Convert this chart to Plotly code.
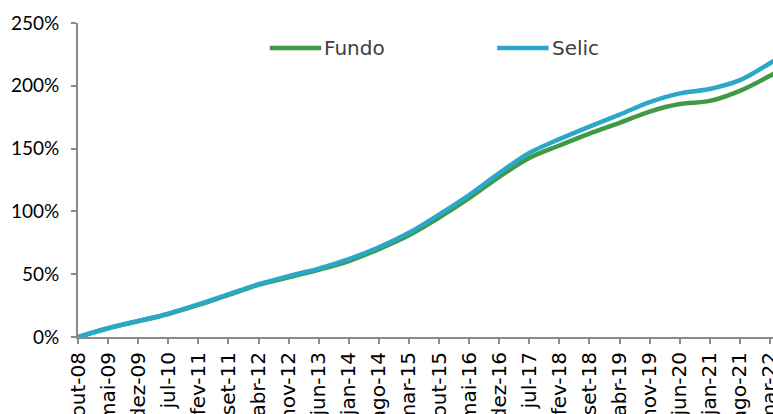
import plotly.graph_objects as go

# Month index counted from out-08; one tick every 7 months
tick_months = list(range(0, 162, 7))
tick_labels = ["out-08", "mai-09", "dez-09", "jul-10", "fev-11", "set-11", "abr-12",
               "nov-12", "jun-13", "jan-14", "ago-14", "mar-15", "out-15", "mai-16",
               "dez-16", "jul-17", "fev-18", "set-18", "abr-19", "nov-19", "jun-20",
               "jan-21", "ago-21", "mar-22"]

# Accumulated return (%) sampled at each tick month, plus the last month (abr-22)
months = tick_months + [162]
fundo = [0, 7, 12.5, 18.3, 25.5, 33.5, 41.5, 47.5, 53.5, 60.5, 70, 81, 95, 110.5,
         127.5, 142.5, 152.5, 162, 170.5, 179.5, 185.5, 188, 196, 208, 210]
selic = [0, 7, 12.8, 18.6, 26, 34, 42, 48.5, 54.5, 62, 71.5, 83, 97.5, 113,
         130.5, 146.5, 157.5, 167.5, 177, 187, 194, 197.5, 204.5, 218, 220]

series_names = ["Fundo", "Selic"]
series_values = [fundo, selic]
series_colors = ["#3f9a48", "#2ba8c8"]

y_ticks = [0, 50, 100, 150, 200, 250]
y_tick_text = [f"{v}%" for v in y_ticks]

fig = go.Figure()
for name, vals, color in zip(series_names, series_values, series_colors):
    fig.add_trace(go.Scatter(
        x=months, y=vals, name=name, mode="lines",
        line=dict(color=color, width=4.5, shape="spline", smoothing=1.0),
        showlegend=False,
    ))

# Legend drawn as line swatches with labels
legend_x = [0.276, 0.603]
for name, color, lx in zip(series_names, series_colors, legend_x):
    fig.add_shape(type="line", xref="paper", yref="paper",
                  x0=lx, x1=lx + 0.074, y0=0.92, y1=0.92,
                  line=dict(color=color, width=4.5))
    fig.add_annotation(xref="paper", yref="paper", x=lx + 0.074, y=0.92,
                       text=name, showarrow=False, xanchor="left", yanchor="middle",
                       xshift=1,
                       font=dict(family="DejaVu Sans", size=20, color="#404040"))

axis_color = "#8a8a8a"
fig.update_layout(
    width=773, height=414,
    margin=dict(l=78, r=0, t=23, b=77),
    paper_bgcolor="white", plot_bgcolor="white",
    xaxis=dict(
        range=[0, 161.7], tickvals=tick_months, ticktext=tick_labels,
        tickangle=-90, showgrid=False, zeroline=False,
        showline=True, linecolor=axis_color, linewidth=2,
        ticks="outside", ticklen=5, tickwidth=1.5, tickcolor=axis_color,
        tickfont=dict(family="DejaVu Sans", size=20, color="black"),
        ticklabeloverflow="allow",
        automargin=False,
    ),
    yaxis=dict(
        range=[0, 250], tickvals=y_ticks, ticktext=y_tick_text,
        showgrid=False, zeroline=False,
        showline=True, linecolor=axis_color, linewidth=2,
        ticks="outside", ticklen=5, tickwidth=1.5, tickcolor=axis_color,
        tickfont=dict(family="Lato", size=19, color="black"),
        ticklabelstandoff=8,
        automargin=False,
    ),
)

fig.write_html("out.html")
